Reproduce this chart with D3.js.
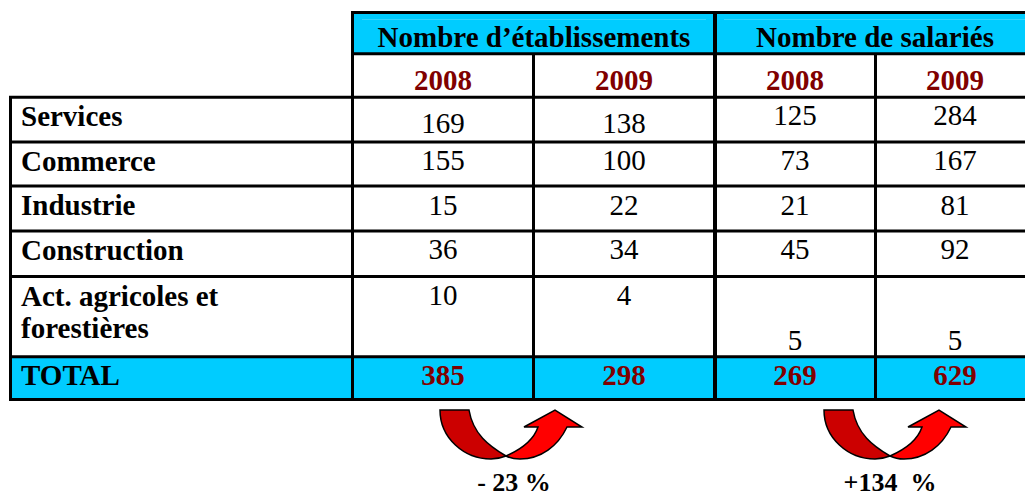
<!DOCTYPE html>
<html>
<head>
<meta charset="utf-8">
<script src="https://cdn.jsdelivr.net/npm/d3@7"></script>
<style>
  html, body { margin: 0; padding: 0; background: #fff; overflow: hidden; }
  svg { display: block; }
  text { font-family: "Liberation Serif", serif; }
</style>
</head>
<body>
<svg id="chart"></svg>
<script>
var groups = ["Nombre d\u2019\u00e9tablissements", "Nombre de salari\u00e9s"];
var years = ["2008", "2009", "2008", "2009"];
var sectors = ["Services", "Commerce", "Industrie", "Construction", ["Act. agricoles et", "foresti\u00e8res"]];
var etab2008 = [169, 155, 15, 36, 10];
var etab2009 = [138, 100, 22, 34, 4];
var sal2008 = [125, 73, 21, 45, 5];
var sal2009 = [284, 167, 81, 92, 5];
var totalLabel = "TOTAL";
var totals = [385, 298, 269, 629];
var changes = ["- 23 %", "+134\u00a0\u00a0%"];

var width = 1025, height = 493;
var blue = "#00ccff", darkRed = "#800000";
var fontSize = 29;

// table grid
var colEdges = [352.5, 533.5, 715, 875.5, 1040];
var rowEdges = [12.5, 53.7, 97.3, 142, 186, 231, 276.5, 356.7, 399.5];
var left = 10.5;

var x = d3.scaleOrdinal().domain(d3.range(5)).range(colEdges);
var y = d3.scaleOrdinal().domain(d3.range(9)).range(rowEdges);

var svg = d3.select("#chart").attr("width", width).attr("height", height);

// blue bands
svg.append("rect").attr("x", x(0)).attr("y", y(0)).attr("width", width - x(0)).attr("height", y(1) - y(0)).attr("fill", blue);
svg.append("rect").attr("x", left).attr("y", y(7)).attr("width", width - left).attr("height", y(8) - y(7)).attr("fill", blue);

// thin light line inside header band
[[362, 706], [724, width]].forEach(function(d) {
    svg.append("line").attr("x1", d[0]).attr("x2", d[1]).attr("y1", 19.5).attr("y2", 19.5)
        .attr("stroke", "#33d6ff").attr("stroke-width", 1);
});

// grid lines
function hline(x1, x2, yy, w) {
    svg.append("line").attr("x1", x1).attr("x2", x2).attr("y1", yy).attr("y2", yy).attr("stroke", "#000").attr("stroke-width", w);
}
function vline(xx, y1, y2, w) {
    svg.append("line").attr("x1", xx).attr("x2", xx).attr("y1", y1).attr("y2", y2).attr("stroke", "#000").attr("stroke-width", w);
}
hline(x(0) - 1.5, width, y(0), 3);
hline(x(0), width, y(1), 3);
d3.range(2, 8).forEach(function(i) { hline(left - 1.5, width, y(i), 3); });
hline(left - 1.5, width, y(8), 3);
vline(left, y(2), y(8), 3);
vline(x(0), y(0), y(8), 3);
vline(x(1), y(1), y(8), 3);
vline(x(2), y(0), y(8), 4);
vline(x(3), y(1), y(8), 3);

// headers
svg.selectAll("text.group").data(groups).enter().append("text")
    .attr("class", "group")
    .attr("x", function(d, i) { return i == 0 ? 534 : 875; })
    .attr("y", 47)
    .attr("text-anchor", "middle")
    .attr("font-size", fontSize).attr("font-weight", "bold")
    .text(function(d) { return d; });

var valueMid = [443, 624, 795, 955];

svg.selectAll("text.year").data(years).enter().append("text")
    .attr("class", "year")
    .attr("x", function(d, i) { return valueMid[i]; })
    .attr("y", 90)
    .attr("text-anchor", "middle")
    .attr("font-size", fontSize).attr("font-weight", "bold").attr("fill", darkRed)
    .text(function(d) { return d; });

// row labels
var labelBase = [126, 171, 215, 260, 306];
sectors.forEach(function(s, i) {
    var lines = Array.isArray(s) ? s : [s];
    lines.forEach(function(t, k) {
        svg.append("text").attr("x", 21).attr("y", labelBase[i] + k * 32)
            .attr("font-size", fontSize).attr("font-weight", "bold").text(t);
    });
});
svg.append("text").attr("x", 21).attr("y", 385)
    .attr("font-size", fontSize).attr("font-weight", "bold").text(totalLabel);

// values
var columns = [etab2008, etab2009, sal2008, sal2009];
var valueBase = [
    [133, 170, 215, 259, 305],
    [133, 170, 215, 259, 305],
    [125, 170, 215, 259, 350],
    [125, 170, 215, 259, 350]
];
columns.forEach(function(col, c) {
    svg.selectAll("text.v" + c).data(col).enter().append("text")
        .attr("class", "v" + c)
        .attr("x", valueMid[c])
        .attr("y", function(d, i) { return valueBase[c][i]; })
        .attr("text-anchor", "middle")
        .attr("font-size", fontSize)
        .text(function(d) { return d; });
});

svg.selectAll("text.total").data(totals).enter().append("text")
    .attr("class", "total")
    .attr("x", function(d, i) { return valueMid[i]; })
    .attr("y", 385)
    .attr("text-anchor", "middle")
    .attr("font-size", fontSize).attr("font-weight", "bold").attr("fill", darkRed)
    .text(function(d) { return d; });

// curved arrows under the table
function drawArrow(cx, cy) {
    var g = svg.append("g").attr("transform", "translate(" + cx + "," + cy + ")")
        .attr("stroke", "#000").attr("stroke-width", 1.5).attr("stroke-linejoin", "miter");
    g.append("path").attr("fill", "#cc0000")
        .attr("d", "M-66,-46 L-37,-46 C-33,-22 -17,-10 0,0 C-5,2 -10,3 -15,3 C-42,3 -66,-18 -66,-46 Z");
    g.append("path").attr("fill", "#ff0000")
        .attr("d", "M0,0 C16,-7 28,-17 32,-29 L18,-29 L49,-46 L76,-29 L61,-29 C52,-10 35,3 14,3 C9,3 4,2 0,0 Z");
}
drawArrow(506, 456);
drawArrow(890, 456);

svg.selectAll("text.change").data(changes).enter().append("text")
    .attr("class", "change")
    .attr("x", function(d, i) { return i == 0 ? 514 : 890; })
    .attr("y", 491)
    .attr("text-anchor", "middle")
    .attr("font-size", 26).attr("font-weight", "bold")
    .text(function(d) { return d; });
</script>
</body>
</html>
